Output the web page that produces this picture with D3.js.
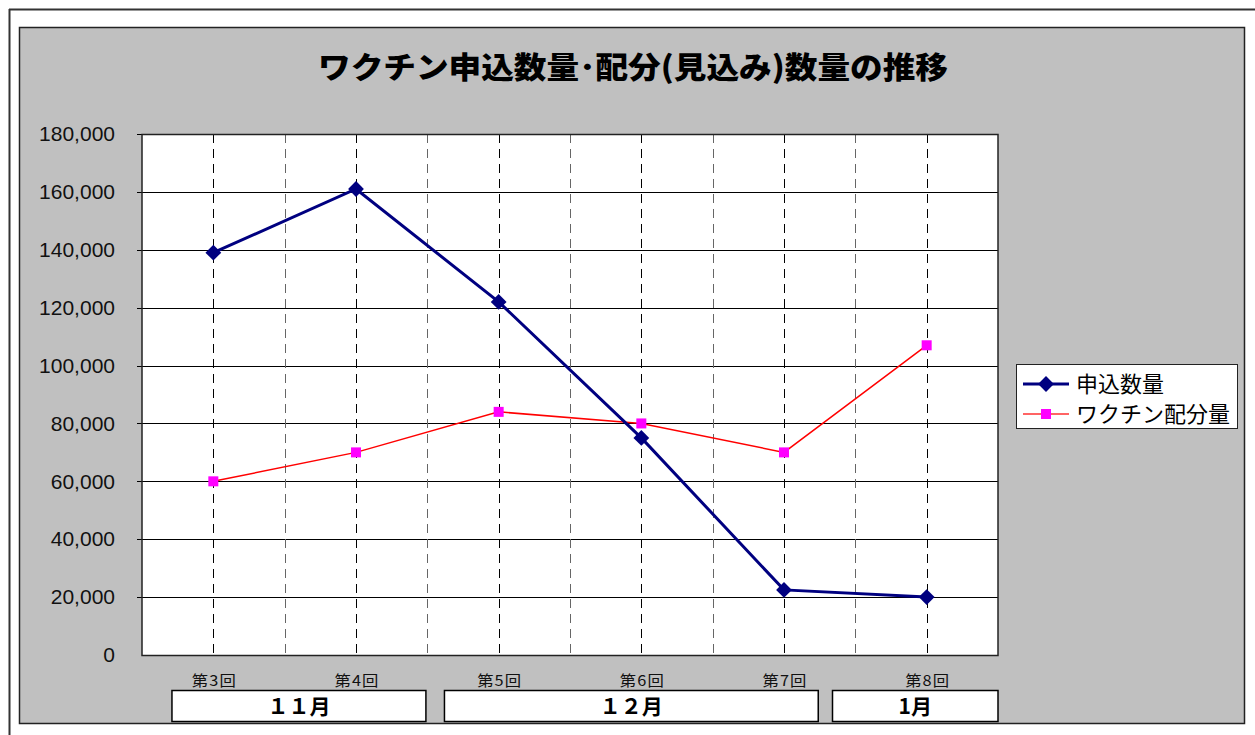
<!DOCTYPE html>
<html lang="ja">
<head>
    <meta charset="UTF-8">
    <title>ワクチン申込数量・配分(見込み)数量の推移</title>
    <script src="https://cdnjs.cloudflare.com/ajax/libs/d3/7.8.5/d3.min.js"></script>
    <style>
        body {
            margin: 0;
            padding: 0;
            background: #fff;
            overflow: hidden;
        }
        svg {
            display: block;
        }
        .ytick text {
            font-family: "Liberation Sans", Arial, sans-serif;
            font-size: 21px;
            fill: #111;
        }
        .cat {
            font-family: "Noto Sans CJK JP", sans-serif;
            font-size: 15px;
            letter-spacing: 1px;
            fill: #111;
        }
        .month {
            font-family: "Noto Sans CJK JP", sans-serif;
            font-size: 21px;
            font-weight: bold;
            fill: #000;
        }
        .legend text {
            font-family: "Noto Sans CJK JP", sans-serif;
            font-size: 22px;
            fill: #000;
        }
    </style>
</head>
<body>
    <svg width="1255" height="735"></svg>
    <script>
        // data
        const categories = ["第3回", "第4回", "第5回", "第6回", "第7回", "第8回"];
        const applied = [139000, 161000, 122000, 75000, 22500, 20000];
        const allocated = [60000, 70000, 84000, 80000, 70000, 107000];
        const seriesNames = ["申込数量", "ワクチン配分量"];
        const yTicks = [0, 20000, 40000, 60000, 80000, 100000, 120000, 140000, 160000, 180000];
        const months = ["１１月", "１２月", "1月"];
        const monthSpans = [[0.21, 1.99], [2.12, 4.74], [4.84, 6.0]]; // in category units

        const svg = d3.select("svg");

        // outer frame
        svg.append("line").attr("x1", 9).attr("x2", 1255).attr("y1", 9.5).attr("y2", 9.5)
            .attr("stroke", "#333").attr("stroke-width", 2);
        svg.append("line").attr("x1", 9.5).attr("x2", 9.5).attr("y1", 9).attr("y2", 735)
            .attr("stroke", "#333").attr("stroke-width", 2);

        // chart area
        svg.append("rect").attr("x", 19.5).attr("y", 27.5).attr("width", 1225).attr("height", 696)
            .attr("fill", "#c0c0c0").attr("stroke", "#222").attr("stroke-width", 1.5);

        svg.append("text")
            .attr("x", 633).attr("y", 78)
            .attr("text-anchor", "middle")
            .attr("textLength", 630)
            .attr("lengthAdjust", "spacingAndGlyphs")
            .style("font-family", "'Noto Sans CJK JP', sans-serif")
            .style("font-size", "30px")
            .style("font-weight", "900")
            .text("ワクチン申込数量･配分(見込み)数量の推移");

        const pLeft = 142, pRight = 998, pTop = 134, pBottom = 655;

        const x = d3.scaleBand().domain(categories).range([pLeft, pRight]).padding(0);
        const y = d3.scaleLinear().domain([0, 180000]).range([pBottom, pTop]);
        const xc = d => x(d) + x.bandwidth() / 2;

        svg.append("rect").attr("x", pLeft).attr("y", pTop)
            .attr("width", pRight - pLeft).attr("height", pBottom - pTop)
            .attr("fill", "#fff");

        // horizontal gridlines
        svg.append("g").selectAll("line")
            .data(yTicks.filter(d => d > 0))
            .join("line")
            .attr("x1", pLeft - 5).attr("x2", pRight)
            .attr("y1", d => Math.round(y(d)) + 0.5).attr("y2", d => Math.round(y(d)) + 0.5)
            .attr("stroke", "#000").attr("stroke-width", 1);

        // vertical dashed gridlines at band boundaries (gray)
        svg.append("g").selectAll("line")
            .data(categories.slice(1))
            .join("line")
            .attr("x1", d => Math.round(x(d)) + 0.5).attr("x2", d => Math.round(x(d)) + 0.5)
            .attr("y1", pTop).attr("y2", pBottom)
            .attr("stroke", "#666").attr("stroke-dasharray", "9,6");

        // vertical dashed gridlines at category centers (black)
        svg.append("g").selectAll("line")
            .data(categories)
            .join("line")
            .attr("x1", d => Math.round(xc(d)) + 0.5).attr("x2", d => Math.round(xc(d)) + 0.5)
            .attr("y1", pTop).attr("y2", pBottom)
            .attr("stroke", "#000").attr("stroke-dasharray", "9,6");

        // plot border
        svg.append("rect").attr("x", pLeft).attr("y", pTop + 0.5)
            .attr("width", pRight - pLeft).attr("height", pBottom - pTop)
            .attr("fill", "none").attr("stroke", "#222").attr("stroke-width", 1.5);

        // y axis labels
        const yAxis = svg.append("g").attr("class", "ytick")
            .attr("transform", `translate(${pLeft},0)`)
            .call(d3.axisLeft(y).tickValues(yTicks).tickSize(0).tickPadding(27)
                .tickFormat(d3.format(",")));
        yAxis.select(".domain").remove();

        // category labels
        svg.append("g").selectAll("text")
            .data(categories)
            .join("text")
            .attr("class", "cat")
            .attr("x", d => xc(d) + 1)
            .attr("y", 686)
            .attr("text-anchor", "middle")
            .attr("textLength", 45)
            .attr("lengthAdjust", "spacingAndGlyphs")
            .text(d => d);

        // month boxes
        const bw = x.bandwidth();
        const mg = svg.append("g");
        months.forEach((m, i) => {
            const x0 = pLeft + monthSpans[i][0] * bw;
            const x1 = pLeft + monthSpans[i][1] * bw;
            mg.append("rect")
                .attr("x", x0).attr("y", 690.5)
                .attr("width", x1 - x0).attr("height", 31)
                .attr("fill", "#fff").attr("stroke", "#000").attr("stroke-width", 1.5);
            mg.append("text")
                .attr("class", "month")
                .attr("x", (x0 + x1) / 2).attr("y", 714)
                .attr("text-anchor", "middle")
                .text(m);
        });

        // lines
        const line = d3.line().x((d, i) => xc(categories[i])).y(d => y(d));

        svg.append("path").datum(allocated)
            .attr("d", line)
            .attr("fill", "none").attr("stroke", "#ff0000").attr("stroke-width", 1.5);

        svg.append("path").datum(applied)
            .attr("d", line)
            .attr("fill", "none").attr("stroke", "#000080").attr("stroke-width", 3);

        svg.append("g").selectAll("rect")
            .data(allocated)
            .join("rect")
            .attr("x", (d, i) => xc(categories[i]) - 5)
            .attr("y", d => y(d) - 5)
            .attr("width", 10).attr("height", 10)
            .attr("fill", "#ff00ff");

        const diamond = d3.symbol().type(d3.symbolSquare).size(125);
        svg.append("g").selectAll("path")
            .data(applied)
            .join("path")
            .attr("d", diamond)
            .attr("transform", (d, i) => `translate(${xc(categories[i])},${y(d)}) rotate(45)`)
            .attr("fill", "#000080");

        // legend
        const lg = svg.append("g").attr("class", "legend");
        lg.append("rect").attr("x", 1016.5).attr("y", 364.5).attr("width", 221).attr("height", 64)
            .attr("fill", "#fff").attr("stroke", "#222").attr("stroke-width", 1);

        const ly = [384, 414];
        lg.append("line").attr("x1", 1023).attr("x2", 1069).attr("y1", ly[0]).attr("y2", ly[0])
            .attr("stroke", "#000080").attr("stroke-width", 3);
        lg.append("path").attr("d", diamond)
            .attr("transform", `translate(1046,${ly[0]}) rotate(45)`).attr("fill", "#000080");
        lg.append("line").attr("x1", 1023).attr("x2", 1069).attr("y1", ly[1]).attr("y2", ly[1])
            .attr("stroke", "#ff3030").attr("stroke-width", 1.5);
        lg.append("rect").attr("x", 1041).attr("y", ly[1] - 5).attr("width", 10).attr("height", 10)
            .attr("fill", "#ff00ff");

        lg.selectAll("text")
            .data(seriesNames)
            .join("text")
            .attr("x", 1076)
            .attr("y", (d, i) => ly[i] + 8)
            .text(d => d);
    </script>
</body>
</html>
